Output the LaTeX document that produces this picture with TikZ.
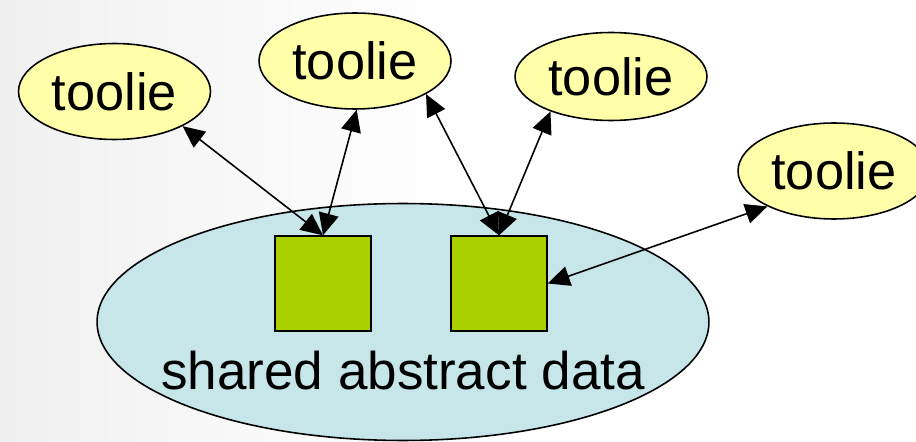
\documentclass[tikz,border=0pt]{standalone}
\usepackage{fontspec}
\setmainfont{Liberation Sans}
\usetikzlibrary{shapes.geometric,arrows.meta}
\definecolor{tyellow}{RGB}{255,255,170}
\definecolor{dblue}{RGB}{198,230,234}
\definecolor{sgreen}{RGB}{170,208,0}
\definecolor{bggray}{RGB}{240,240,240}
\tikzset{
  toolie/.style={ellipse,draw=black,line width=0.9pt,fill=tyellow,inner sep=0pt,
    minimum width=3.84cm,minimum height=1.92cm,font=\fontsize{29.8pt}{34pt}\selectfont},
  databox/.style={rectangle,draw=black,line width=0.8pt,fill=sgreen,inner sep=0pt,
    minimum width=1.92cm,minimum height=1.90cm},
  pool/.style={ellipse,draw=black,line width=0.9pt,fill=dblue,inner sep=0pt,
    minimum width=12.24cm,minimum height=4.74cm},
  link/.style={line width=0.9pt,{Triangle[length=0.44cm,width=0.40cm]}-{Triangle[length=0.44cm,width=0.40cm]}},
  lbl/.style={font=\fontsize{30.2pt}{34pt}\selectfont,inner sep=0pt}
}
\begin{document}
\begin{tikzpicture}[x=0.02cm,y=-0.02cm]
\useasboundingbox (0,0) rectangle (916,442);
\fill[white] (0,0) rectangle (916,442);
\shade[left color=bggray,right color=white] (0,0) rectangle (460,442);
\node[pool] (pool) at (403,322) {};
\node[databox] (sq1) at (323,283.5) {};
\node[databox] (sq2) at (499,283.5) {};
\node[lbl] (label) at (403,371) {shared abstract data};
\node[toolie] (t1) at (114.5,91.5) {toolie};
\node[toolie] (t2) at (355,61) {toolie};
\node[toolie,minimum height=1.76cm] (t3) at (611,76.5) {toolie};
\node[toolie] (t4) at (834,171) {toolie};
\draw[link] (t1.-27) -- (sq1.north);
\draw[link] (t2.-88) -- (sq1.north);
\draw[link] (t2.-25) -- (sq2.north);
\draw[link] (t3.-150) -- (sq2.north);
\draw[link] (t4.-152) -- (sq2.east);
\end{tikzpicture}
\end{document}
